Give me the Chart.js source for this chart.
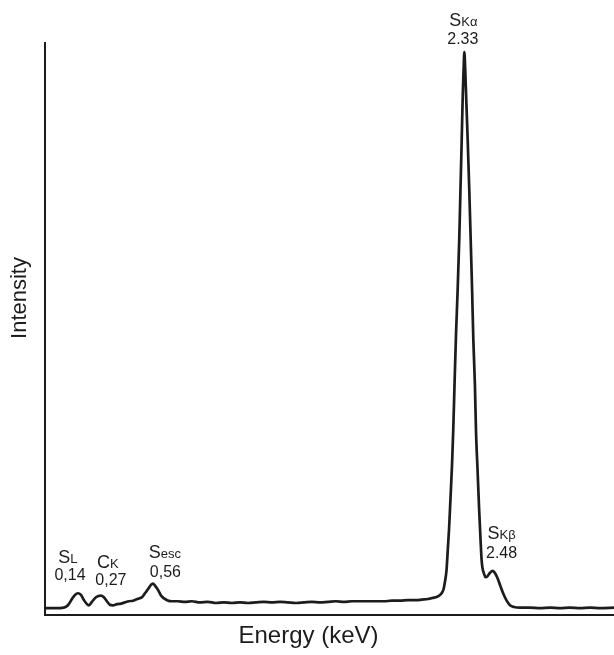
<!DOCTYPE html>
<html>
<head>
<meta charset="utf-8">
<script src="https://cdn.jsdelivr.net/npm/chart.js@4/dist/chart.umd.min.js"></script>
<style>
html,body{margin:0;padding:0;background:#fff;}
#wrap{width:614px;height:655px;position:relative;}
</style>
</head>
<body>
<div id="wrap"><canvas id="c" width="614" height="655"></canvas></div>
<script>
// Energy (keV) of each sampled point of the spectrum
const energyKeV = [
  -0.045, 0.008, 0.059, 0.082, 0.105, 0.122, 0.139, 0.156, 0.173, 0.190,
  0.201, 0.218, 0.241, 0.269, 0.286, 0.303, 0.320, 0.337, 0.360, 0.383,
  0.405, 0.428, 0.451, 0.468, 0.485, 0.502, 0.519, 0.536, 0.554, 0.564,
  0.575, 0.593, 0.610, 0.627, 0.644, 0.672, 0.706, 0.746, 0.785, 0.831,
  0.876, 0.922, 0.967, 1.012, 1.058, 1.103, 1.148, 1.194, 1.239, 1.285,
  1.330, 1.376, 1.421, 1.466, 1.512, 1.557, 1.603, 1.648, 1.693, 1.739,
  1.784, 1.830, 1.875, 1.920, 1.966, 2.011, 2.057, 2.091, 2.125, 2.153,
  2.176, 2.193, 2.204, 2.213, 2.221, 2.230, 2.237, 2.244, 2.252, 2.261,
  2.268, 2.276, 2.284, 2.293, 2.302, 2.309, 2.316, 2.322, 2.327, 2.331,
  2.336, 2.342, 2.350, 2.359, 2.367, 2.375, 2.382, 2.391, 2.397, 2.406,
  2.415, 2.423, 2.429, 2.434, 2.443, 2.451, 2.463, 2.474, 2.491, 2.503,
  2.517, 2.534, 2.551, 2.571, 2.590, 2.613, 2.647, 2.703, 2.760, 2.817,
  2.874, 2.930, 2.987, 3.044, 3.101, 3.180
];
// Intensity (arbitrary units) at each energy
const intensity = [
  1.2, 1.2, 1.3, 1.7, 2.8, 3.5, 3.8, 3.5, 2.6, 1.9,
  1.7, 2.3, 3.1, 3.4, 3.1, 2.4, 1.8, 1.7, 1.9, 2.0,
  2.2, 2.4, 2.5, 2.7, 2.9, 3.1, 3.8, 4.5, 5.3, 5.5,
  5.2, 4.4, 3.4, 2.9, 2.6, 2.4, 2.4, 2.3, 2.4, 2.2,
  2.3, 2.1, 2.2, 2.1, 2.2, 2.1, 2.2, 2.3, 2.2, 2.3,
  2.2, 2.1, 2.2, 2.3, 2.2, 2.3, 2.4, 2.3, 2.4, 2.4,
  2.4, 2.4, 2.4, 2.5, 2.5, 2.6, 2.6, 2.7, 2.8, 3.0,
  3.2, 3.5, 3.9, 4.5, 5.8, 7.9, 11.4, 14.9, 20.1, 26.2,
  32.3, 41.1, 49.3, 56.8, 65.6, 74.3, 83.0, 90.9, 95.6, 98.4,
  95.3, 90.0, 83.0, 74.3, 65.6, 56.8, 48.1, 40.2, 32.3, 25.3,
  18.4, 13.1, 9.6, 8.2, 7.2, 6.6, 6.8, 7.3, 7.7, 7.4,
  6.6, 5.2, 3.8, 2.5, 1.7, 1.4, 1.3, 1.3, 1.2, 1.3,
  1.2, 1.3, 1.2, 1.3, 1.2, 1.3
];
// Peak annotations
const peakEnergies   = [0.14, 0.27, 0.56, 2.33, 2.48];
const peakSymbols    = ['S', 'C', 'S', 'S', 'S'];
const peakSubscripts = ['L', 'K', 'esc', 'Kα', 'Kβ'];
const peakValues     = ['0,14', '0,27', '0,56', '2.33', '2.48'];
const xAxisTitle = 'Energy (keV)';
const yAxisTitle = 'Intensity';

const FAMILY = '"Liberation Sans", Arial, Helvetica, sans-serif';
const INK = '#1c1c1c';

const points = energyKeV.map((e, i) => ({ x: e, y: intensity[i] }));

const peakLabelPlugin = {
  id: 'peakLabels',
  afterDraw(chart, args, opts) {
    const { ctx, scales: { x, y } } = chart;
    const data = chart.data.datasets[0].data;
    ctx.save();
    ctx.fillStyle = opts.color;
    ctx.textBaseline = 'alphabetic';
    peakEnergies.forEach((e, i) => {
      let best = null;
      for (const p of data) {
        if (Math.abs(p.x - e) <= 0.03 && (!best || p.y > best.y)) best = p;
      }
      const px = x.getPixelForValue(best.x);
      const py = y.getPixelForValue(best.y);
      const o = opts.offsets[i];
      const symFont = `${opts.symbolSize}px ${FAMILY}`;
      const subFont = `${opts.subSize}px ${FAMILY}`;
      ctx.font = symFont;
      const w1 = ctx.measureText(peakSymbols[i]).width;
      ctx.font = subFont;
      const w2 = ctx.measureText(peakSubscripts[i]).width;
      const sx = px + o.dx1 - (w1 + w2) / 2;
      const by = py + o.dy1;
      ctx.textAlign = 'left';
      ctx.font = symFont;
      ctx.fillText(peakSymbols[i], sx, by);
      ctx.font = subFont;
      ctx.fillText(peakSubscripts[i], sx + w1, by);
      ctx.textAlign = 'center';
      ctx.font = `${opts.valueSize}px ${FAMILY}`;
      ctx.fillText(peakValues[i], px + o.dx2, py + o.dy2);
    });
    // axis titles
    ctx.textAlign = 'center';
    ctx.textBaseline = 'middle';
    ctx.font = `${opts.xTitleSize}px ${FAMILY}`;
    ctx.fillText(xAxisTitle, opts.xTitle.x, opts.xTitle.y);
    ctx.font = `${opts.yTitleSize}px ${FAMILY}`;
    ctx.translate(opts.yTitle.x, opts.yTitle.y);
    ctx.rotate(-Math.PI / 2);
    ctx.fillText(yAxisTitle, 0, 0);
    ctx.restore();
  }
};

new Chart(document.getElementById('c'), {
  type: 'line',
  data: {
    datasets: [{
      data: points,
      borderColor: INK,
      borderWidth: 2.7,
      pointRadius: 0,
      fill: false,
      cubicInterpolationMode: 'monotone',
      borderJoinStyle: 'round'
    }]
  },
  options: {
    responsive: false,
    devicePixelRatio: 1,
    animation: false,
    layout: { padding: { top: 43, right: 0, bottom: 0, left: 0 } },
    plugins: {
      legend: { display: false },
      tooltip: { enabled: false },
      peakLabels: {
        color: INK,
        symbolSize: 18,
        subSize: 13,
        valueSize: 16,
        xTitleSize: 24,
        yTitleSize: 22,
        xTitle: { x: 308.5, y: 636 },
        yTitle: { x: 20, y: 298 },
        offsets: [
          { dx1: -10, dy1: -30,   dx2: -8,   dy2: -13 },
          { dx1: 7,   dy1: -27.5, dx2: 10,   dy2: -11 },
          { dx1: 12,  dy1: -25.5, dx2: 12.5, dy2: -6.5 },
          { dx1: -1,  dy1: -26.5, dx2: -1.5, dy2: -8 },
          { dx1: 9,   dy1: -32,   dx2: 9,    dy2: -13 }
        ]
      }
    },
    scales: {
      x: {
        type: 'linear',
        min: -0.048,
        max: 3.18,
        grid: { display: false },
        ticks: { display: false },
        border: { display: true, color: INK, width: 2 },
        afterFit: (s) => { s.height = 40; }
      },
      y: {
        min: 0,
        max: 100,
        grid: { display: false },
        ticks: { display: false },
        border: { display: true, color: INK, width: 2 },
        afterFit: (s) => { s.width = 45; }
      }
    }
  },
  plugins: [peakLabelPlugin]
});
</script>
</body>
</html>
